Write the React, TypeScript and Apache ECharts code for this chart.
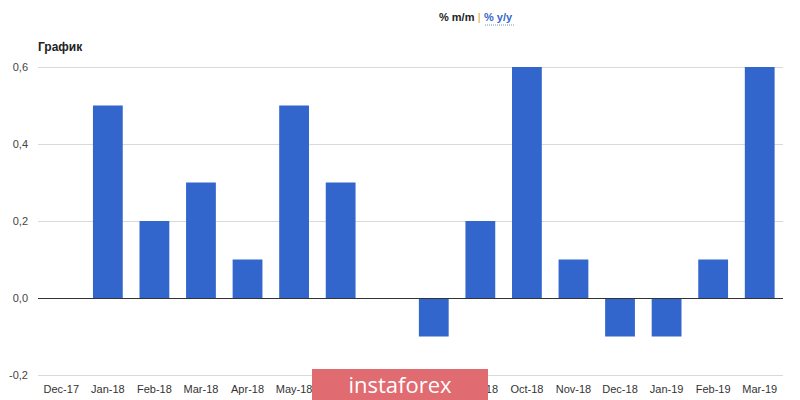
import React, { useEffect, useRef } from "react";
import * as echarts from "echarts";

const categories = ["Dec-17","Jan-18","Feb-18","Mar-18","Apr-18","May-18","Jun-18","Jul-18","Aug-18","Sep-18","Oct-18","Nov-18","Dec-18","Jan-19","Feb-19","Mar-19"];
const values = [0, 0.5, 0.2, 0.3, 0.1, 0.5, 0.3, 0, -0.1, 0.2, 0.6, 0.1, -0.1, -0.1, 0.1, 0.6];

export default function App() {
  const ref = useRef<HTMLDivElement>(null);
  useEffect(() => {
    const chart = echarts.init(ref.current!, null, { renderer: "svg" });
    chart.setOption({
      animation: false,
      backgroundColor: "#ffffff",
      textStyle: { fontFamily: "Arial, 'Liberation Sans', sans-serif" },
      grid: { left: 38, right: 17, top: 67, bottom: 25, containLabel: false },
      xAxis: {
        type: "category",
        data: categories,
        axisLine: { show: false },
        axisTick: { show: false },
        axisLabel: { color: "#333", fontSize: 11, margin: 8, interval: 0 },
      },
      yAxis: {
        type: "value",
        min: -0.2,
        max: 0.6,
        interval: 0.2,
        axisLine: { show: false },
        axisTick: { show: false },
        splitLine: { lineStyle: { color: "#d9d9d9", width: 1 } },
        axisLabel: {
          color: "#444",
          fontSize: 11,
          margin: 10,
          formatter: (v: number) => v.toFixed(1).replace(".", ","),
        },
      },
      series: [
        {
          type: "bar",
          data: values,
          barWidth: "64%",
          itemStyle: { color: "#3366cc" },
          markLine: {
            silent: true,
            symbol: "none",
            label: { show: false },
            lineStyle: { color: "#333", width: 1, type: "solid" },
            data: [{ yAxis: 0 }],
          },
        },
      ],
      graphic: [
        {
          type: "text",
          left: 38,
          top: 41,
          style: { text: "График", font: "bold 12px Arial, 'Liberation Sans', sans-serif", fill: "#222" },
        },
        {
          type: "text",
          left: 439,
          top: 11,
          style: {
            text: "{a|% m/m} {b||} {c|% y/y}",
            rich: {
              a: { font: "bold 11px Arial, 'Liberation Sans', sans-serif", fill: "#222" },
              b: { font: "11px Arial, 'Liberation Sans', sans-serif", fill: "#e69c24" },
              c: { font: "bold 11px Arial, 'Liberation Sans', sans-serif", fill: "#3366cc" },
            },
          },
        },
        {
          type: "line",
          shape: { x1: 485, y1: 25, x2: 515, y2: 25 },
          style: { stroke: "#6b93d6", lineWidth: 1, lineDash: [1, 1] },
        },
        {
          type: "rect",
          shape: { x: 312, y: 369, width: 176, height: 31 },
          style: { fill: "#e06b70" },
          z: 100,
        },
        {
          type: "text",
          x: 400,
          y: 384,
          z: 101,
          style: {
            text: "instaforex",
            font: "22px 'Open Sans', Arial, sans-serif",
            fill: "#ffffff",
            align: "center",
            verticalAlign: "middle",
          },
        },
      ],
    });
    return () => chart.dispose();
  }, []);
  return <div ref={ref} style={{ width: 800, height: 400, position: "absolute", left: 0, top: 0 }} />;
}
